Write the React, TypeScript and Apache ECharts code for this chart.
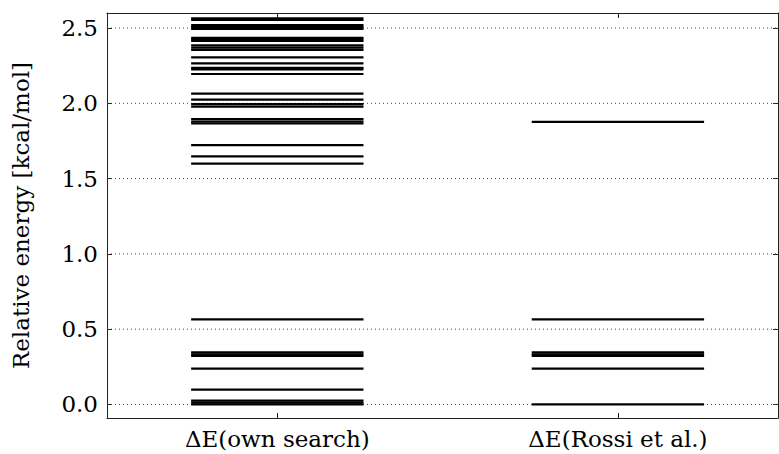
import React, { useEffect, useRef } from "react";
import * as echarts from "echarts";

const categories = ["ΔE(own search)", "ΔE(Rossi et al.)"];
const ownSearch = [
  2.565, 2.555, 2.52, 2.508, 2.495, 2.435, 2.425, 2.415, 2.385, 2.37, 2.355,
  2.305, 2.265, 2.235, 2.225, 2.195, 2.065, 2.025, 1.995, 1.978, 1.895, 1.878,
  1.866, 1.722, 1.648, 1.6, 0.565, 0.346, 0.333, 0.322, 0.238, 0.098, 0.025,
  0.012, 0.0,
];
const rossi = [1.877, 0.565, 0.346, 0.333, 0.322, 0.238, 0.0];
const yTicks = [0, 0.5, 1.0, 1.5, 2.0, 2.5];
const xTicks = [0, 1];

const FONT = "DejaVu Serif";

export default function App() {
  const ref = useRef<HTMLDivElement>(null);
  useEffect(() => {
    document.body.style.margin = "0";
    const chart = echarts.init(ref.current!, null, { renderer: "svg" });
    const levelData: number[][] = [];
    ownSearch.forEach((v) => levelData.push([0, v]));
    rossi.forEach((v) => levelData.push([1, v]));
    const halfWidth = 0.253;
    const tickColor = "#222";
    const axisCommon = {
      axisLine: { show: true, onZero: false, lineStyle: { color: tickColor, width: 1 } },
      splitLine: { show: false },
    };
    chart.setOption({
      animation: false,
      backgroundColor: "#fff",
      grid: { left: 107, right: 1, top: 13, bottom: 36, containLabel: false },
      xAxis: [
        {
          type: "value",
          min: -0.5,
          max: 1.47,
          position: "bottom",
          ...axisCommon,
          axisTick: {
            show: true,
            inside: true,
            length: 5,
            customValues: xTicks,
            lineStyle: { color: tickColor },
          },
          axisLabel: {
            show: true,
            customValues: xTicks,
            formatter: (v: number) => categories[Math.round(v)] ?? "",
            fontFamily: FONT,
            fontSize: 23,
            color: "#000",
            margin: 9,
          },
        },
        {
          type: "value",
          min: -0.5,
          max: 1.47,
          position: "top",
          ...axisCommon,
          axisTick: {
            show: true,
            inside: true,
            length: 5,
            customValues: xTicks,
            lineStyle: { color: tickColor },
          },
          axisLabel: { show: false },
        },
      ],
      yAxis: [
        {
          type: "value",
          min: -0.09,
          max: 2.6,
          position: "left",
          ...axisCommon,
          axisTick: {
            show: true,
            inside: true,
            length: 5,
            customValues: yTicks,
            lineStyle: { color: tickColor },
          },
          axisLabel: {
            show: true,
            customValues: yTicks,
            formatter: (v: number) => v.toFixed(1),
            fontFamily: FONT,
            fontSize: 23,
            color: "#000",
            margin: 9,
          },
          name: "Relative energy [kcal/mol]",
          nameLocation: "middle",
          nameGap: 75,
          nameTextStyle: { fontFamily: FONT, fontSize: 23, color: "#000" },
        },
        {
          type: "value",
          min: -0.09,
          max: 2.6,
          position: "right",
          ...axisCommon,
          axisTick: {
            show: true,
            inside: true,
            length: 5,
            customValues: yTicks,
            lineStyle: { color: tickColor },
          },
          axisLabel: { show: false },
        },
      ],
      series: [
        {
          type: "custom",
          z: 1,
          silent: true,
          data: yTicks.map((v) => [0, v]),
          renderItem: (params: any, api: any) => {
            const cs = params.coordSys;
            const p = api.coord([0, api.value(1)]);
            return {
              type: "line",
              shape: { x1: cs.x, y1: p[1], x2: cs.x + cs.width, y2: p[1] },
              style: { stroke: "#444", lineWidth: 1, lineDash: [1, 3] },
            };
          },
        },
        {
          type: "custom",
          z: 2,
          silent: true,
          data: levelData,
          renderItem: (params: any, api: any) => {
            const x = api.value(0);
            const y = api.value(1);
            const p1 = api.coord([x - halfWidth, y]);
            const p2 = api.coord([x + halfWidth, y]);
            return {
              type: "line",
              shape: { x1: p1[0], y1: p1[1], x2: p2[0], y2: p2[1] },
              style: { stroke: "#000", lineWidth: 2.2 },
            };
          },
        },
      ],
    });
    return () => chart.dispose();
  }, []);
  return <div ref={ref} style={{ width: 779, height: 454 }} />;
}
